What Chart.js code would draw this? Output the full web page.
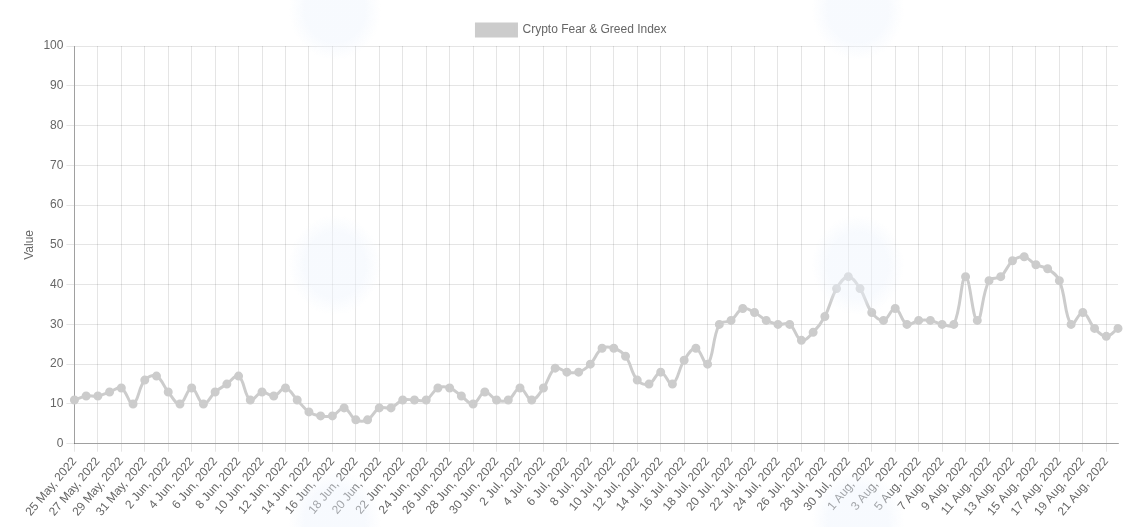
<!DOCTYPE html>
<html>
<head>
<meta charset="utf-8">
<script src="https://cdn.jsdelivr.net/npm/chart.js@4"></script>
<style>
  html, body { margin: 0; padding: 0; background: #fff; }
  #wrap { position: absolute; left: 18px; top: 14px; width: 1107px; height: 508px; }
  /* faint watermark laid over the chart */
  #mark {
    position: absolute; left: 0; top: 0; width: 1136px; height: 527px; pointer-events: none;
    background:
      radial-gradient(ellipse 46px 50px at 335px 10px, rgba(238,244,253,0.45) 65%, rgba(238,244,253,0) 100%),
      radial-gradient(ellipse 46px 50px at 335px 265px, rgba(238,244,253,0.45) 65%, rgba(238,244,253,0) 100%),
      radial-gradient(ellipse 46px 50px at 335px 520px, rgba(238,244,253,0.45) 65%, rgba(238,244,253,0) 100%),
      radial-gradient(ellipse 46px 50px at 858px 10px, rgba(238,244,253,0.45) 65%, rgba(238,244,253,0) 100%),
      radial-gradient(ellipse 46px 50px at 858px 265px, rgba(238,244,253,0.45) 65%, rgba(238,244,253,0) 100%),
      radial-gradient(ellipse 46px 50px at 858px 520px, rgba(238,244,253,0.45) 65%, rgba(238,244,253,0) 100%);
  }
</style>
</head>
<body>
<div id="wrap"><canvas id="fng-chart"></canvas></div>
<div id="mark"></div>
<script>
// Daily index values, 25 May 2022 .. 22 Aug 2022
const startDate = new Date(2022, 4, 25);
const values = [
  11, 12, 12, 13, 14, 10, 16, 17, 13, 10, 14, 10, 13, 15, 17, 11, 13, 12, 14, 11,
  8, 7, 7, 9, 6, 6, 9, 9, 11, 11,
  11, 14, 14, 12, 10, 13, 11, 11, 14, 11, 14, 19, 18, 18, 20, 24, 24, 22, 16, 15,
  18, 15, 21, 24, 20, 30, 31,
  34, 33, 31, 30, 30, 26, 28, 32, 39, 42, 39, 33, 31, 34, 30, 31, 31, 30, 30, 42,
  31, 41, 42, 46, 47, 45, 44, 41, 30, 33, 29, 27, 29
];
const monthNames = ['Jan', 'Feb', 'Mar', 'Apr', 'May', 'Jun', 'Jul', 'Aug', 'Sep', 'Oct', 'Nov', 'Dec'];
const labels = values.map((v, i) => {
  const d = new Date(startDate.getFullYear(), startDate.getMonth(), startDate.getDate() + i);
  return d.getDate() + ' ' + monthNames[d.getMonth()] + ', ' + d.getFullYear();
});
const yTicks = [0, 10, 20, 30, 40, 50, 60, 70, 80, 90, 100];

Chart.defaults.font.family = "'Liberation Sans', Arial, Helvetica, sans-serif";
Chart.defaults.font.size = 12;
Chart.defaults.color = '#666';

const ctx = document.getElementById('fng-chart').getContext('2d');
new Chart(ctx, {
    type: 'line',
    data: {
        labels: labels,
        datasets: [{
            label: 'Crypto Fear & Greed Index',
            data: values,
            backgroundColor: 'rgb(204, 204, 204)',
            borderColor: 'rgb(204, 204, 204)',
            borderWidth: 3,
            pointRadius: 3,
            pointBackgroundColor: 'rgb(204, 204, 204)',
            pointBorderColor: 'rgb(204, 204, 204)',
            fill: false,
            tension: 0.4
        }]
    },
    options: {
        responsive: true,
        maintainAspectRatio: false,
        animation: false,
        plugins: {
            legend: {
                labels: { boxWidth: 40, boxHeight: 12 }
            },
            tooltip: { enabled: false }
        },
        scales: {
            x: {
                grid: { color: 'rgba(0,0,0,0.1)' },
                border: { color: 'rgba(0,0,0,0.3)' },
                ticks: { maxRotation: 50, minRotation: 50, autoSkip: true }
            },
            y: {
                min: yTicks[0],
                max: yTicks[yTicks.length - 1],
                afterBuildTicks: axis => { axis.ticks = yTicks.map(v => ({ value: v })); },
                grid: { color: 'rgba(0,0,0,0.1)' },
                border: { color: 'rgba(0,0,0,0.3)' },
                title: { display: true, text: 'Value' }
            }
        }
    }
});
</script>
</body>
</html>
